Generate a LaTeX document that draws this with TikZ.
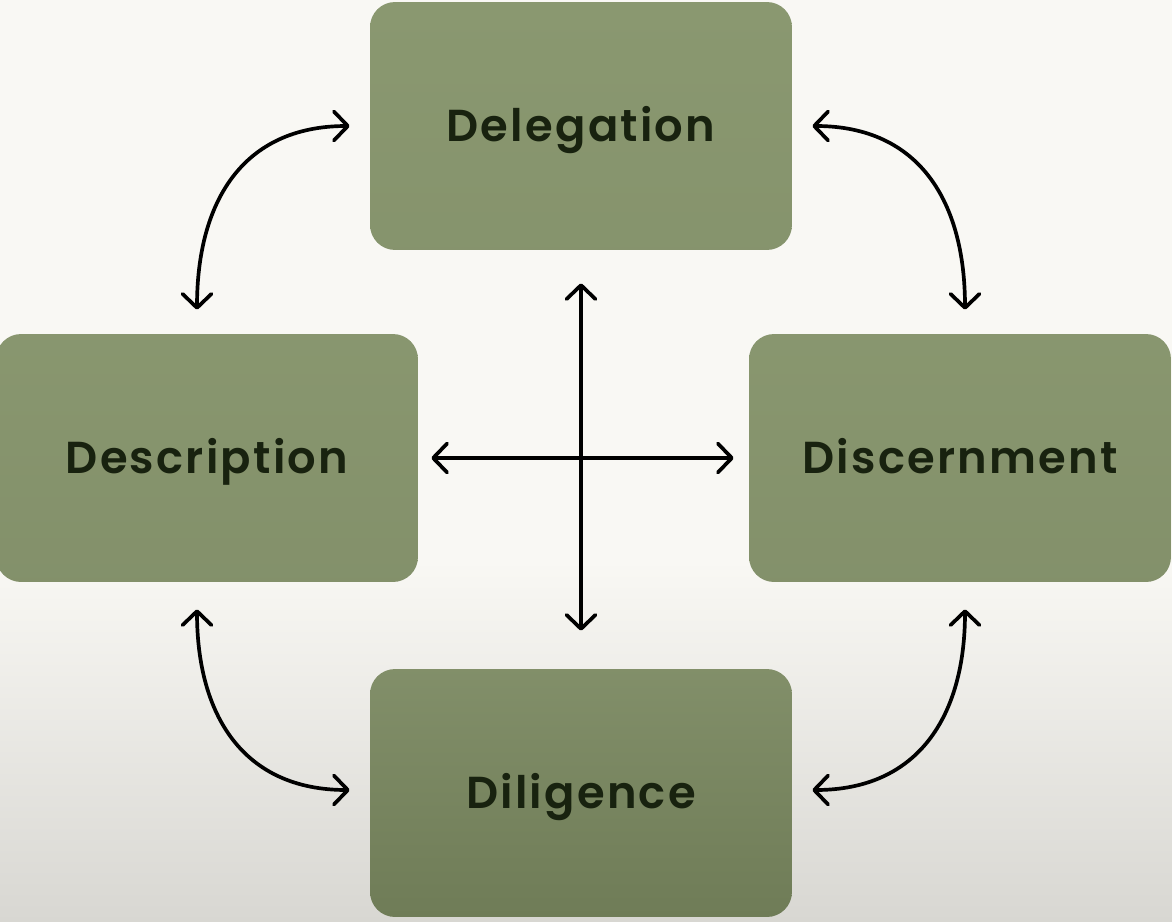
\documentclass[tikz,border=0pt]{standalone}
\usepackage{fontspec}
\setmainfont{Poppins}[BoldFont={Poppins SemiBold},LetterSpace=5]
\usepackage{tikz}
\usetikzlibrary{arrows.meta}

\definecolor{bgtop}{HTML}{F9F8F4}
\definecolor{bgbot}{HTML}{D8D7D2}
\definecolor{sage}{HTML}{8A9870}
\definecolor{sagedark}{HTML}{6F7C57}
\definecolor{boxtext}{HTML}{18220F}

\begin{document}
\begin{tikzpicture}[
  x=0.02cm,y=-0.02cm,
  >={Straight Barb[length=2.8mm,width=5.8mm,round]},
  card/.style={rounded corners=0.5cm,minimum width=8.44cm,minimum height=4.96cm,
    text=boxtext,font=\fontsize{25.5}{30}\selectfont\bfseries,
    text height=0.62cm,text depth=-0.14cm},
  link/.style={<->,line width=2.1pt,line cap=round,looseness=1.15}
]
% page
\useasboundingbox (0,0) rectangle (1172,922);
\fill[bgtop] (0,0) rectangle (1172,922);
\shade[top color=bgtop,bottom color=bgbot] (0,560) rectangle (1172,922);

% the four cards
\node[card,top color=sage,bottom color=sage!97!black] (deleg) at (581,126) {Delegation};
\node[card,top color=sage!99!black,bottom color=sage!95!black] (desc) at (207,458) {Description};
\node[card,top color=sage!99!black,bottom color=sage!95!black] (disc) at (960,458) {Discernment};
\node[card,top color=sage!94!black,bottom color=sagedark] (dilig) at (581,793) {Diligence};

% curved links round the outside
\draw[link] ([xshift=-0.2cm,yshift=0.48cm]desc.north) to[out=90,in=180] ([xshift=-0.4cm]deleg.west);
\draw[link] ([xshift=0.4cm]deleg.east) to[out=0,in=90] ([xshift=0.1cm,yshift=0.48cm]disc.north);
\draw[link] ([xshift=-0.2cm,yshift=-0.54cm]desc.south) to[out=-90,in=180] ([xshift=-0.4cm,yshift=0.06cm]dilig.west);
\draw[link] ([xshift=0.1cm,yshift=-0.54cm]disc.south) to[out=-90,in=0] ([xshift=0.4cm,yshift=0.06cm]dilig.east);

% the cross in the middle
\draw[link] ([yshift=-0.66cm]deleg.south) -- ([yshift=0.76cm]dilig.north);
\draw[link] ([xshift=0.26cm]desc.east) -- ([xshift=-0.3cm]disc.west);
\end{tikzpicture}
\end{document}
